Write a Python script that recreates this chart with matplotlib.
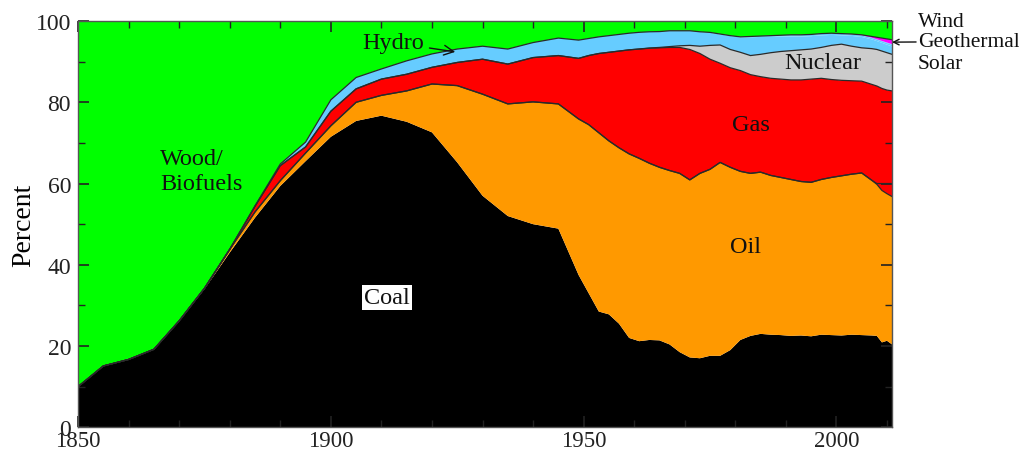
import numpy as np
import matplotlib
matplotlib.use("Agg")
import matplotlib.pyplot as plt
from matplotlib.ticker import MultipleLocator

plt.rcParams['font.family'] = ['Liberation Serif', 'DejaVu Serif']

# Share of US primary energy consumption by source (percent)
years = [1850, 1855, 1860, 1865, 1870, 1875, 1880, 1885, 1890, 1895,
         1900, 1905, 1910, 1915, 1920, 1925, 1930, 1935, 1940, 1945, 1949,
         1951, 1953, 1955, 1957, 1959, 1961, 1963, 1965, 1967, 1969,
         1971, 1973, 1975, 1977, 1979, 1981, 1983, 1985, 1987, 1989,
         1991, 1993, 1995, 1997, 1999, 2001, 2003, 2005, 2007,
         2008, 2009, 2010, 2011]

coal = [10.0, 15.1, 16.7, 19.2, 26.2, 34.0, 43.0, 51.6, 59.4, 65.5,
        71.5, 75.4, 76.7, 75.2, 72.6, 65.2, 57.0, 52.0, 50.0, 48.9, 37.5,
        33.0, 28.5, 27.8, 25.5, 22.0, 21.2, 21.5, 21.4, 20.4, 18.5,
        17.2, 17.0, 17.6, 17.6, 19.0, 21.5, 22.5, 23.0, 22.8, 22.7,
        22.5, 22.6, 22.4, 22.8, 22.7, 22.6, 22.8, 22.7, 22.6,
        22.5, 20.9, 21.3, 20.4]

oil = [0.0, 0.0, 0.0, 0.0, 0.0, 0.2, 0.8, 1.4, 1.3, 2.0,
       2.7, 4.6, 5.0, 7.6, 11.9, 18.9, 25.0, 27.6, 30.1, 30.7, 38.4,
       41.5, 44.0, 42.7, 43.3, 45.3, 45.0, 43.5, 42.6, 42.8, 44.0,
       43.7, 45.5, 45.9, 47.6, 45.0, 41.5, 40.0, 39.8, 39.2, 38.8,
       38.5, 37.9, 37.9, 38.2, 38.8, 39.3, 39.5, 39.9, 38.2,
       37.3, 37.4, 36.2, 36.4]

ethanol = [0.0] * 50 + [0.2, 1.7, 2.5, 3.2]

gas = [0.0, 0.0, 0.0, 0.0, 0.0, 0.0, 0.0, 1.4, 3.7, 1.5,
       3.6, 3.3, 4.0, 4.1, 4.1, 5.7, 8.6, 9.8, 10.9, 11.9, 14.9,
       17.0, 19.5, 21.8, 23.8, 25.6, 26.9, 28.3, 29.4, 30.3, 31.0,
       32.1, 29.5, 27.1, 24.4, 24.5, 24.8, 24.3, 23.5, 23.9, 24.2,
       24.5, 25.0, 25.4, 24.9, 24.1, 23.5, 23.0, 22.6, 23.6,
       24.0, 23.4, 23.0, 22.8]

nuclear = [0.0] * 26 + [0.02, 0.05, 0.1, 0.2, 0.4,
                        1.0, 1.8, 3.4, 4.5, 4.5, 4.5, 4.7, 5.5, 6.3, 6.8,
                        7.2, 7.4, 7.4, 7.6, 8.4, 8.9, 8.5, 8.2, 8.8,
                        9.0, 9.2, 9.2, 9.0]

hydro = [0.0, 0.0, 0.0, 0.0, 0.0, 0.0, 0.0, 0.1, 0.4, 1.2,
         2.8, 2.8, 2.5, 3.3, 3.3, 3.3, 3.2, 3.7, 3.7, 4.3, 4.5,
         4.2, 4.1, 4.1, 4.1, 4.1, 4.1, 4.0, 3.9, 3.9, 3.7,
         3.6, 3.5, 3.1, 2.6, 3.3, 3.65, 4.5, 4.28, 3.9, 3.68,
         3.47, 3.27, 3.17, 2.97, 2.57, 2.18, 2.53, 2.68, 2.27,
         2.06, 2.02, 1.98, 1.94]

geothermal = [0.0] * 32 + [0.05, 0.1, 0.1, 0.1, 0.15, 0.2, 0.2, 0.25, 0.25,
                           0.35, 0.35, 0.35, 0.35, 0.35, 0.35, 0.35, 0.35, 0.35,
                           0.35, 0.38, 0.4, 0.4]

solar = [0.0] * 38 + [0.02, 0.05, 0.07,
                      0.08, 0.08, 0.08, 0.08, 0.08, 0.07, 0.07, 0.07, 0.08,
                      0.09, 0.1, 0.12, 0.16]

wind = [0.0] * 47 + [0.05, 0.1, 0.3, 0.5, 0.7, 0.9, 1.1]

wood = [90.0, 84.9, 83.3, 80.8, 73.8, 65.8, 56.2, 45.5, 35.2, 29.8,
        19.4, 13.9, 11.8, 9.8, 8.1, 6.9, 6.2, 6.9, 5.3, 4.2, 4.7,
        4.3, 3.9, 3.6, 3.3, 3.0, 2.78, 2.65, 2.6, 2.4, 2.4,
        2.4, 2.65, 2.8, 3.2, 3.6, 3.9, 3.8, 3.7, 3.6, 3.5,
        3.4, 3.4, 3.3, 3.1, 3.0, 3.1, 3.2, 3.4, 3.8,
        4.0, 4.2, 4.4, 4.6]

layers = [coal, oil, ethanol, gas, nuclear, hydro, geothermal, solar, wind, wood]
colors = ['#000000', '#ff9900', '#ff0000', '#ff0000', '#cccccc',
          '#66ccff', '#66ccff', '#66ccff', '#ff00ff', '#00ff00']
# boundary lines drawn on the top of these layers
outlined = [False, True, True, True, True, False, False, False, True, False]

x = np.array(years, dtype=float)
data = np.array(layers, dtype=float)
tops = np.cumsum(data, axis=0)
bottoms = np.vstack([np.zeros_like(x), tops[:-1]])

fig = plt.figure(figsize=(10.19, 4.52), dpi=100)
ax = fig.add_axes([0.0766, 0.0524, 0.7988, 0.8989])

for lo, hi, c in zip(bottoms, tops, colors):
    ax.fill_between(x, lo, hi, facecolor=c, edgecolor='none', linewidth=0)
for hi, draw in zip(tops, outlined):
    if draw:
        ax.plot(x, hi, color='#2a2a2a', lw=0.9)

ax.set_xlim(1850, 2011)
ax.set_ylim(0, 100)
ax.xaxis.set_major_locator(MultipleLocator(50))
ax.xaxis.set_minor_locator(MultipleLocator(10))
ax.yaxis.set_major_locator(MultipleLocator(20))
ax.yaxis.set_minor_locator(MultipleLocator(10))
ax.tick_params(which='both', direction='in', top=True, right=True,
               colors='#222222')
ax.tick_params(which='major', length=8, width=1.2)
ax.tick_params(which='minor', length=5, width=1.0)
ax.tick_params(axis='x', which='major', pad=2, labelsize=16.5)
ax.tick_params(axis='y', which='major', pad=5, labelsize=17)
for s in ax.spines.values():
    s.set_color('#555555')
    s.set_linewidth(1.0)
ax.set_ylabel('Percent', fontsize=20, labelpad=0)

lab = dict(fontsize=17.5, color='#111111')
ax.text(1866.2, 63.1, 'Wood/\nBiofuels', ha='left', va='center',
        linespacing=1.2, **lab)
ax.text(1911.1, 32.0, 'Coal', ha='center', va='center',
        bbox=dict(facecolor='white', edgecolor='none', pad=1.5), **lab)
ax.text(1982.0, 44.5, 'Oil', ha='center', va='center', **lab)
ax.text(1983.0, 74.6, 'Gas', ha='center', va='center', **lab)
ax.text(1997.4, 89.7, 'Nuclear', ha='center', va='center', **lab)
ax.annotate('Hydro', xy=(1924.6, 92.4), xytext=(1912.3, 94.7),
            ha='center', va='center', **lab,
            arrowprops=dict(arrowstyle='->', color='#111111', lw=1.0,
                            shrinkA=2, shrinkB=0))

side = dict(fontsize=15.5, color='#111111', ha='left', va='center')
fig.text(0.9009, 0.9513, 'Wind', **side)
fig.text(0.9009, 0.9049, 'Geothermal', **side)
fig.text(0.9009, 0.8562, 'Solar', **side)
ax.annotate('', xy=(2011, 94.8), xycoords='data',
            xytext=(0.899, 0.9049), textcoords='figure fraction',
            arrowprops=dict(arrowstyle='->', color='#111111', lw=1.0,
                            shrinkA=0, shrinkB=0),
            annotation_clip=False)

fig.savefig('out.png', dpi=100)
